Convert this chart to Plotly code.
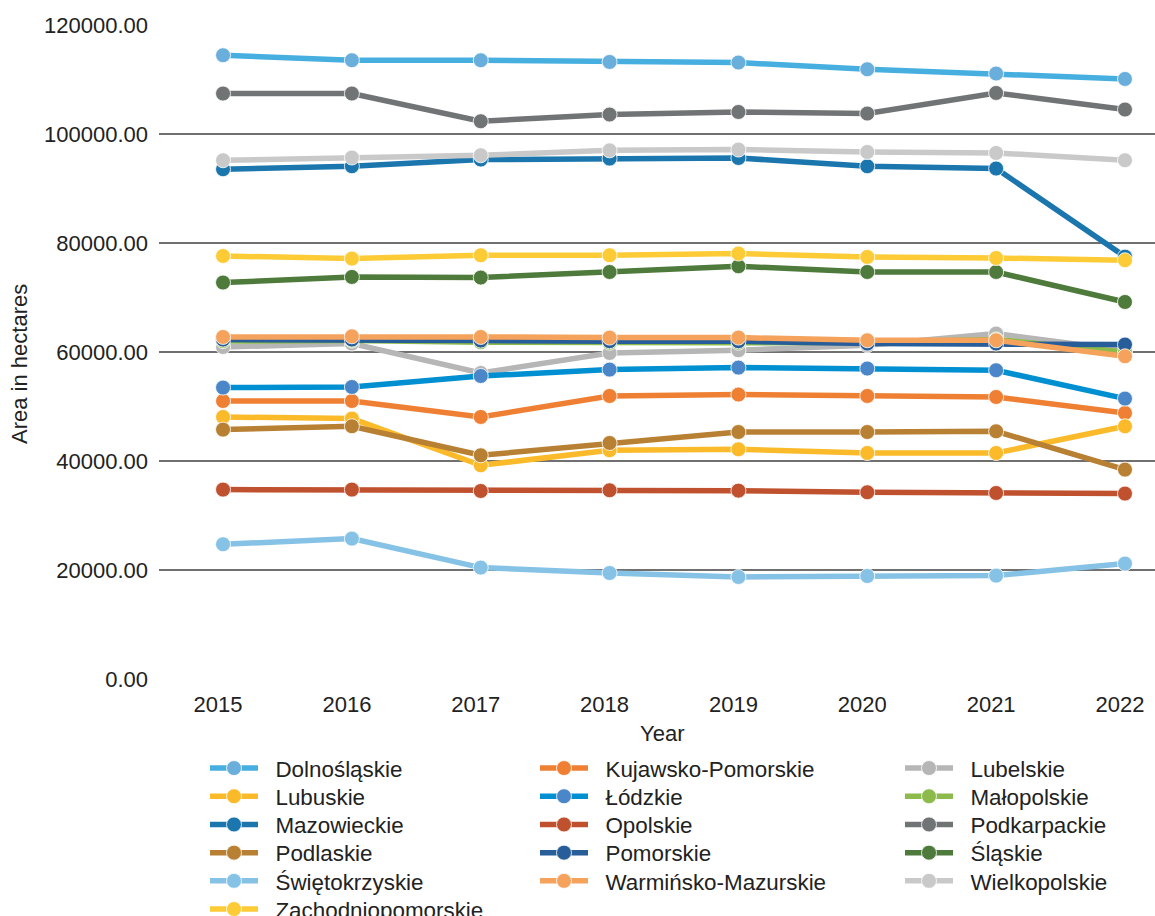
import plotly.graph_objects as go

# Years on the x axis
years = [2015, 2016, 2017, 2018, 2019, 2020, 2021, 2022]

# Area in hectares per voivodeship
dolnoslaskie = [114450, 113530, 113530, 113220, 113110, 111880, 111090, 110100]
kujawsko_pomorskie = [51010, 51010, 48080, 51930, 52190, 51930, 51750, 48810]
lubelskie = [60920, 61550, 56150, 59820, 60320, 61230, 63380, 60300]
lubuskie = [48080, 47780, 39210, 41970, 42150, 41470, 41470, 46370]
lodzkie = [53470, 53580, 55600, 56770, 57140, 56960, 56650, 51450]
malopolskie = [62000, 62100, 61800, 61700, 61700, 61800, 62300, 60000]
mazowieckie = [93530, 94080, 95310, 95490, 95600, 94080, 93660, 77500]
opolskie = [34750, 34750, 34500, 34630, 34560, 34260, 34130, 34020]
podkarpackie = [107420, 107420, 102340, 103570, 104040, 103750, 107530, 104490]
podlaskie = [45760, 46370, 41050, 43310, 45320, 45320, 45450, 38420]
pomorskie = [62280, 62280, 62100, 61980, 61970, 61550, 61550, 61360]
slaskie = [72740, 73770, 73660, 74680, 75730, 74680, 74680, 69180]
swietokrzyskie = [24720, 25760, 20440, 19450, 18720, 18900, 18970, 21180]
warminsko_mazurskie = [62760, 62880, 62760, 62640, 62640, 62150, 62150, 59210]
wielkopolskie = [95180, 95680, 96100, 97000, 97140, 96700, 96520, 95180]
zachodniopomorskie = [77620, 77140, 77750, 77750, 78060, 77440, 77250, 76830]

# name, values, line colour, marker colour
series = [
    ("Dolnośląskie", dolnoslaskie, "#46afe0", "#6aafdc"),
    ("Kujawsko-Pomorskie", kujawsko_pomorskie, "#ef8033", "#ef8033"),
    ("Lubelskie", lubelskie, "#b6b6b6", "#b6b6b6"),
    ("Lubuskie", lubuskie, "#fbba2a", "#fbba2a"),
    ("Łódzkie", lodzkie, "#008fd0", "#4b87c8"),
    ("Małopolskie", malopolskie, "#8cbb4b", "#8cbb4b"),
    ("Mazowieckie", mazowieckie, "#1b76ae", "#1b76ae"),
    ("Opolskie", opolskie, "#c0512f", "#c0512f"),
    ("Podkarpackie", podkarpackie, "#717474", "#717474"),
    ("Podlaskie", podlaskie, "#b88033", "#b88033"),
    ("Pomorskie", pomorskie, "#275d99", "#275d99"),
    ("Śląskie", slaskie, "#4e7a3b", "#4e7a3b"),
    ("Świętokrzyskie", swietokrzyskie, "#86c2e6", "#86c2e6"),
    ("Warmińsko-Mazurskie", warminsko_mazurskie, "#f4a25c", "#f4a25c"),
    ("Wielkopolskie", wielkopolskie, "#c9c9c9", "#c9c9c9"),
    ("Zachodniopomorskie", zachodniopomorskie, "#fccb36", "#fccb36"),
]

FONT = "Liberation Sans, Arial, sans-serif"
W, H = 1155, 916
TXT = "#222222"
M_L, M_T, M_B = 159, 25, 237
PLOT_W, PLOT_H = W - M_L, H - M_T - M_B

# legend grid: three columns, filled row by row
COL_X = [205, 535, 900]
ROW0_Y, ROW_STEP = 747, 28.2

fig = go.Figure()
layout_legends = {}
for i, (name, vals, lc, mc) in enumerate(series):
    lid = "legend" if i == 0 else f"legend{i + 1}"
    row, col = divmod(i, 3)
    fig.add_trace(go.Scatter(
        x=years, y=vals, name="\u00a0\u00a0" + name, mode="lines+markers",
        line=dict(color=lc, width=5.5),
        marker=dict(color=mc, size=15, line=dict(color="white", width=0.8)),
        legend=lid,
    ))
    layout_legends[lid] = dict(
        orientation="v", xref="container", yref="container",
        xanchor="left", yanchor="top", bgcolor="rgba(0,0,0,0)",
        x=COL_X[col] / W, y=1 - (ROW0_Y + row * ROW_STEP) / H,
        font=dict(family=FONT, size=22.4, color=TXT),
        itemwidth=48, itemsizing="trace",
        itemclick=False, itemdoubleclick=False,
    )


def px_to_paper(px, py):
    return (px - M_L) / PLOT_W, (H - M_B - py) / PLOT_H


year_x, year_y = px_to_paper(662, 734)
area_x, area_y = px_to_paper(19, 364)

fig.update_layout(
    width=W, height=H,
    paper_bgcolor="white", plot_bgcolor="white",
    margin=dict(l=M_L, r=0, t=M_T, b=M_B, autoexpand=False),
    showlegend=True,
    xaxis=dict(
        range=[2014.503, 2022.233], tickmode="array", tickvals=years,
        ticktext=[str(y) for y in years], showgrid=False, zeroline=False,
        showline=False, ticks="", ticklabelshift=-5, ticklabelstandoff=10,
        tickfont=dict(family=FONT, size=22, color=TXT),
    ),
    yaxis=dict(
        range=[0, 120000], tickmode="array",
        tickvals=[0, 20000, 40000, 60000, 80000, 100000, 120000],
        tickformat=".2f", showgrid=True, gridcolor="#707070", gridwidth=1.5,
        zeroline=False, showline=False, ticks="", ticklabelstandoff=10,
        tickfont=dict(family=FONT, size=22, color=TXT),
    ),
    annotations=[
        dict(text="Year", xref="paper", yref="paper",
             x=year_x, y=year_y, xanchor="center", yanchor="middle",
             showarrow=False, font=dict(family=FONT, size=22, color=TXT)),
        dict(text="Area in hectares", xref="paper", yref="paper",
             x=area_x, y=area_y, xanchor="center", yanchor="middle",
             textangle=-90, showarrow=False,
             font=dict(family=FONT, size=22, color=TXT)),
    ],
    **layout_legends,
)

fig.write_html("out.html")
